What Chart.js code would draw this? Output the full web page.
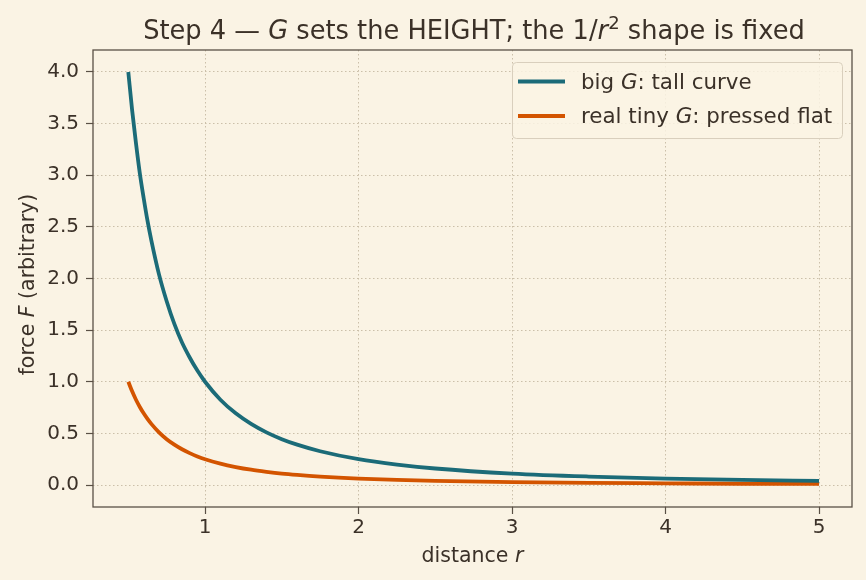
<!DOCTYPE html>
<html>
<head>
<meta charset="utf-8">
<script src="https://cdn.jsdelivr.net/npm/chart.js@4/dist/chart.umd.min.js"></script>
<style>
  html, body { margin: 0; padding: 0; background: #faf3e4; }
  #wrap { width: 866px; height: 580px; position: relative; }
</style>
</head>
<body>
<div id="wrap"><canvas id="chart" width="866" height="580"></canvas></div>
<script>
// distance r
const distance = [0.5, 0.525, 0.55, 0.575, 0.6, 0.625, 0.65, 0.7, 0.75, 0.8, 0.85, 0.9, 0.95, 1.0, 1.1, 1.2, 1.3, 1.4, 1.5, 1.6, 1.75, 2.0, 2.25, 2.5, 3.0, 3.5, 4.0, 4.5, 5.0];
const bigG = [4.00, 3.63, 3.31, 3.02, 2.78, 2.56, 2.37, 2.04, 1.78, 1.56, 1.38, 1.235, 1.108, 1.00, 0.826, 0.694, 0.592, 0.510, 0.444, 0.391, 0.327, 0.250, 0.198, 0.160, 0.111, 0.082, 0.0625, 0.049, 0.040];
const tinyG = [1.00, 0.907, 0.826, 0.756, 0.694, 0.640, 0.592, 0.510, 0.444, 0.391, 0.346, 0.309, 0.277, 0.250, 0.207, 0.174, 0.148, 0.128, 0.111, 0.098, 0.082, 0.0625, 0.049, 0.040, 0.028, 0.020, 0.016, 0.012, 0.010];
const xTicks = [1, 2, 3, 4, 5];
const yTicks = [0, 0.5, 1.0, 1.5, 2.0, 2.5, 3.0, 3.5, 4.0];

const TEAL = '#1b6b78';
const ORANGE = '#d35400';
const TEXT = '#3b3128';
const FRAME = '#5a5045';
const GRID = '#cbbfa9';
const FONT = '"DejaVu Sans", sans-serif';

// draw a run of [text, italic, superscript] pieces
function richText(ctx, parts, x, y, size, align) {
    const font = (it, sz) => `${it ? 'italic ' : ''}${sz}px ${FONT}`;
    let total = 0;
    for (const [t, it, sup] of parts) {
        ctx.font = font(it, sup ? size * 0.7 : size);
        total += ctx.measureText(t).width;
    }
    let cx = align === 'center' ? x - total / 2 : x;
    ctx.textAlign = 'left';
    for (const [t, it, sup] of parts) {
        const sz = sup ? size * 0.7 : size;
        ctx.font = font(it, sz);
        ctx.fillText(t, cx, sup ? y - size * 0.38 : y);
        cx += ctx.measureText(t).width;
    }
}

const decorations = {
    id: 'decorations',
    afterDraw(chart) {
        const { ctx, chartArea: a } = chart;
        ctx.save();
        // full frame
        ctx.strokeStyle = FRAME;
        ctx.lineWidth = 1.3;
        ctx.strokeRect(a.left, a.top, a.right - a.left, a.bottom - a.top);

        ctx.fillStyle = TEXT;
        ctx.textBaseline = 'alphabetic';
        richText(ctx, [['Step 4 — '], ['G', true], [' sets the HEIGHT; the 1/'], ['r', true], ['2', false, true], [' shape is fixed']],
            (a.left + a.right) / 2 + 1.5, 39, 25.7, 'center');
        richText(ctx, [['distance '], ['r', true]], (a.left + a.right) / 2, 562, 20.5, 'center');

        ctx.save();
        ctx.translate(34, (a.top + a.bottom) / 2 + 6);
        ctx.rotate(-Math.PI / 2);
        richText(ctx, [['force '], ['F', true], [' (arbitrary)']], 0, 0, 20.5, 'center');
        ctx.restore();

        // legend
        const lx = 512, ly = 62, lw = 330, lh = 76;
        ctx.fillStyle = 'rgba(250, 243, 228, 0.85)';
        ctx.strokeStyle = '#d9cfbd';
        ctx.lineWidth = 1;
        ctx.beginPath();
        ctx.roundRect(lx + 0.5, ly + 0.5, lw, lh, 4);
        ctx.fill();
        ctx.stroke();
        const rows = [
            [TEAL, [['big '], ['G', true], [': tall curve']]],
            [ORANGE, [['real tiny '], ['G', true], [': pressed flat']]],
        ];
        rows.forEach(([color, parts], i) => {
            const y = 81.5 + i * 34.5;
            ctx.strokeStyle = color;
            ctx.lineWidth = 3.8;
            ctx.beginPath();
            ctx.moveTo(518, y);
            ctx.lineTo(565, y);
            ctx.stroke();
            ctx.fillStyle = TEXT;
            richText(ctx, parts, 581, y + 7, 21.4, 'left');
        });
        ctx.restore();
    },
};

const points = (ys) => distance.map((r, i) => ({ x: r, y: ys[i] }));

new Chart(document.getElementById('chart'), {
    type: 'line',
    data: {
        datasets: [
            {
                label: 'big G: tall curve',
                data: points(bigG),
                borderColor: TEAL,
                borderWidth: 3.8,
                pointRadius: 0,
                cubicInterpolationMode: 'monotone',
                fill: false,
            },
            {
                label: 'real tiny G: pressed flat',
                data: points(tinyG),
                borderColor: ORANGE,
                borderWidth: 3.8,
                pointRadius: 0,
                cubicInterpolationMode: 'monotone',
                fill: false,
            },
        ],
    },
    options: {
        responsive: false,
        animation: false,
        layout: { padding: { top: 50, right: 14, left: 0, bottom: 0 } },
        plugins: {
            legend: { display: false },
            tooltip: { enabled: false },
        },
        scales: {
            x: {
                type: 'linear',
                min: 0.27,
                max: 5.215,
                afterBuildTicks: (s) => { s.ticks = xTicks.map((v) => ({ value: v })); },
                afterFit: (s) => { s.height = 73; },
                grid: { color: GRID, lineWidth: 1, tickColor: FRAME, tickLength: 7, tickWidth: 1.2 },
                border: { display: false, dash: [1.5, 2.5] },
                ticks: { color: TEXT, font: { family: FONT, size: 20 }, padding: 2, maxRotation: 0, callback: (v) => String(v) },
            },
            y: {
                type: 'linear',
                min: -0.213,
                max: 4.213,
                afterBuildTicks: (s) => { s.ticks = yTicks.map((v) => ({ value: v })); },
                afterFit: (s) => { s.width = 93; },
                grid: { color: GRID, lineWidth: 1, tickColor: FRAME, tickLength: 7, tickWidth: 1.2 },
                border: { display: false, dash: [1.5, 2.5] },
                ticks: { color: TEXT, font: { family: FONT, size: 20 }, padding: 7, callback: (v) => v.toFixed(1) },
            },
        },
    },
    plugins: [decorations],
});
</script>
</body>
</html>
